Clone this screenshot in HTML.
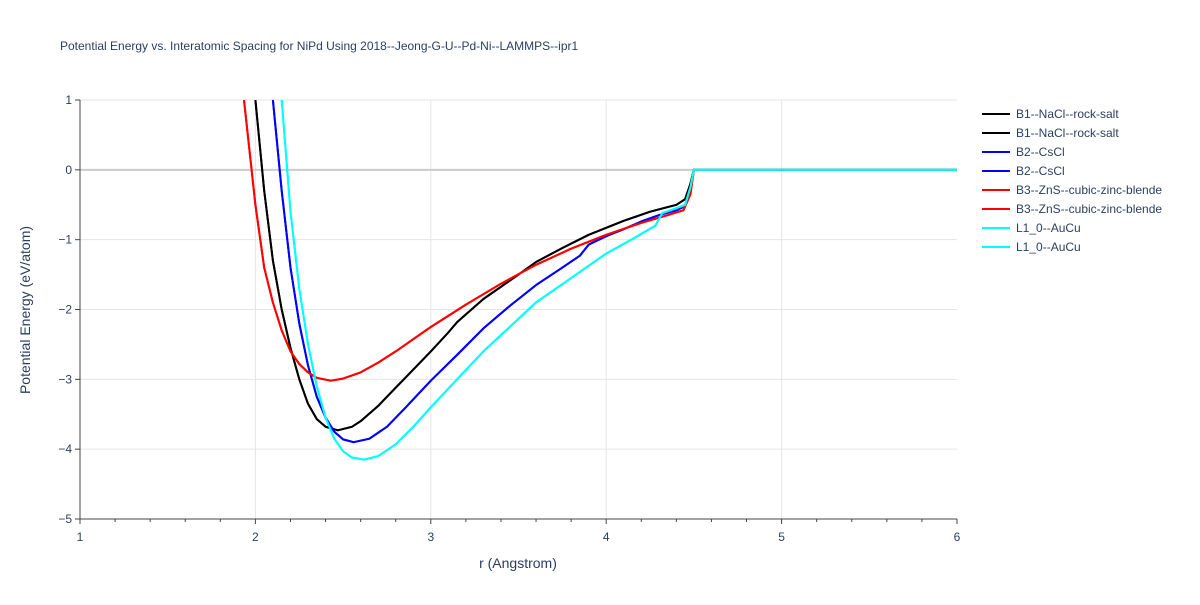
<!DOCTYPE html>
<html><head><meta charset="utf-8"><style>
body{margin:0;background:#fff;font-family:"Liberation Sans",sans-serif}
svg text{font-family:"Liberation Sans",sans-serif}
</style></head><body>
<svg id="c" width="1200" height="600"></svg>
<script>
const seriesNames=["B1--NaCl--rock-salt","B2--CsCl","B3--ZnS--cubic-zinc-blende","L1_0--AuCu"];
const seriesColors=["#000000","#0000ff","#ff0000","#00ffff"];
const b1R=[2.0,2.05,2.1,2.15,2.2,2.25,2.3,2.35,2.4,2.47,2.55,2.6,2.7,2.8,2.9,3.0,3.1,3.15,3.3,3.5,3.6,3.75,3.9,4.0,4.1,4.25,4.4,4.45,4.48,4.5,6];
const b1E=[1.0,-0.3,-1.3,-2.0,-2.55,-3.0,-3.35,-3.57,-3.68,-3.73,-3.68,-3.6,-3.38,-3.12,-2.86,-2.6,-2.33,-2.18,-1.85,-1.5,-1.32,-1.12,-0.93,-0.83,-0.73,-0.6,-0.5,-0.42,-0.2,0,0];
const b2R=[2.1,2.15,2.2,2.25,2.3,2.35,2.4,2.45,2.5,2.56,2.65,2.75,2.85,3.0,3.15,3.3,3.45,3.6,3.75,3.85,3.9,4.0,4.1,4.2,4.3,4.4,4.45,4.48,4.5,6];
const b2E=[1,-0.3,-1.4,-2.2,-2.8,-3.25,-3.55,-3.75,-3.86,-3.9,-3.85,-3.68,-3.42,-3.02,-2.65,-2.27,-1.95,-1.65,-1.4,-1.23,-1.07,-0.95,-0.85,-0.74,-0.65,-0.58,-0.52,-0.3,0,0];
const b3R=[1.935,2.0,2.05,2.1,2.15,2.2,2.25,2.3,2.35,2.43,2.5,2.6,2.7,2.8,3.0,3.2,3.4,3.6,3.8,4.0,4.2,4.35,4.44,4.48,4.5,6];
const b3E=[1,-0.5,-1.4,-1.9,-2.3,-2.6,-2.78,-2.9,-2.98,-3.02,-2.99,-2.9,-2.76,-2.6,-2.25,-1.93,-1.63,-1.36,-1.13,-0.93,-0.76,-0.65,-0.58,-0.35,0,0];
const l10R=[2.15,2.2,2.25,2.3,2.35,2.4,2.45,2.5,2.55,2.62,2.7,2.8,2.9,3.0,3.15,3.3,3.45,3.6,3.8,4.0,4.15,4.28,4.32,4.4,4.45,4.48,4.5,6];
const l10E=[1,-0.6,-1.7,-2.5,-3.1,-3.55,-3.85,-4.03,-4.12,-4.15,-4.1,-3.93,-3.68,-3.4,-3.0,-2.6,-2.25,-1.9,-1.55,-1.2,-0.99,-0.8,-0.62,-0.55,-0.5,-0.25,0,0];
const xTicks=[1,2,3,4,5,6];
const yTicks=[1,0,-1,-2,-3,-4,-5];
const X0=80,X1=957,Y0=100,Y1=519;
const TC='#2a3f5f';
const xs=r=>X0+(r-1)/5*(X1-X0);
const ys=e=>Y0+(1-e)/6*(Y1-Y0);
const svg=document.getElementById('c');const NS="http://www.w3.org/2000/svg";
function mk(t,a,p){const e=document.createElementNS(NS,t);for(const k in a)e.setAttribute(k,a[k]);(p||svg).appendChild(e);return e;}
const defs=mk('defs',{});const cp=mk('clipPath',{id:'cp'},defs);mk('rect',{x:X0,y:Y0,width:X1-X0,height:Y1-Y0},cp);
let t=mk('text',{x:60,y:50,'font-size':12,fill:TC});t.textContent="Potential Energy vs. Interatomic Spacing for NiPd Using 2018--Jeong-G-U--Pd-Ni--LAMMPS--ipr1";


xTicks.forEach(v=>{const x=xs(v);
 if(v>1&&v<6){const g=mk('line',{x1:x,x2:x,y1:Y0,y2:Y1,stroke:'#e5e5e5'});}
 const l=mk('text',{x:x,y:Y1+22,'text-anchor':'middle','font-size':12,fill:TC});l.textContent=v;
 
 });
for(let i=0;i<=25;i++){const x=xs(1+i*0.2);mk('line',{x1:x,x2:x,y1:Y1,y2:Y1+(i%5==0?5:3),stroke:'#444'});}
yTicks.forEach(v=>{const y=ys(v);
 const g=mk('line',{x1:X0,x2:X1,y1:y,y2:y,stroke:v==0?'#cccccc':'#e5e5e5','stroke-width':v==0?2:1});
 
 
 mk('line',{x1:X0-5,x2:X0,y1:y,y2:y,stroke:'#444'});
 const l=mk('text',{x:X0-8,y:y+4,'text-anchor':'end','font-size':12,fill:TC});l.textContent=v<0?'\u2212'+(-v):v;
 
 });
mk('line',{x1:X0,x2:X0,y1:Y0,y2:Y1,stroke:'#444'});mk('line',{x1:X0,x2:X1,y1:Y1,y2:Y1,stroke:'#444'});
t=mk('text',{x:518,y:568,'text-anchor':'middle','font-size':14,fill:TC});t.textContent="r (Angstrom)";


t=mk('text',{x:30,y:310,'text-anchor':'middle','font-size':14,fill:TC,transform:'rotate(-90 30 310)'});t.textContent="Potential Energy (eV/atom)";


const data=[[b1R,b1E],[b2R,b2E],[b3R,b3E],[l10R,l10E]];
const g=mk('g',{'clip-path':'url(#cp)'});
data.forEach((d,i)=>{for(let k=0;k<2;k++){const p=mk('path',{d:d[0].map((r,j)=>(j?'L':'M')+xs(r).toFixed(1)+','+ys(d[1][j]).toFixed(1)).join(''),fill:'none',stroke:seriesColors[i],'stroke-width':2,'stroke-linejoin':'round'},g);
 
 }});
for(let i=0;i<8;i++){const s=Math.floor(i/2),y=114+i*19;
 const ln=mk('line',{x1:982,x2:1010,y1:y,y2:y,stroke:seriesColors[s],'stroke-width':2});
 
 
 const tx=mk('text',{x:1016,y:y+4,'font-size':12,fill:TC});tx.textContent=seriesNames[s];
 
 }
</script>
</body></html>
